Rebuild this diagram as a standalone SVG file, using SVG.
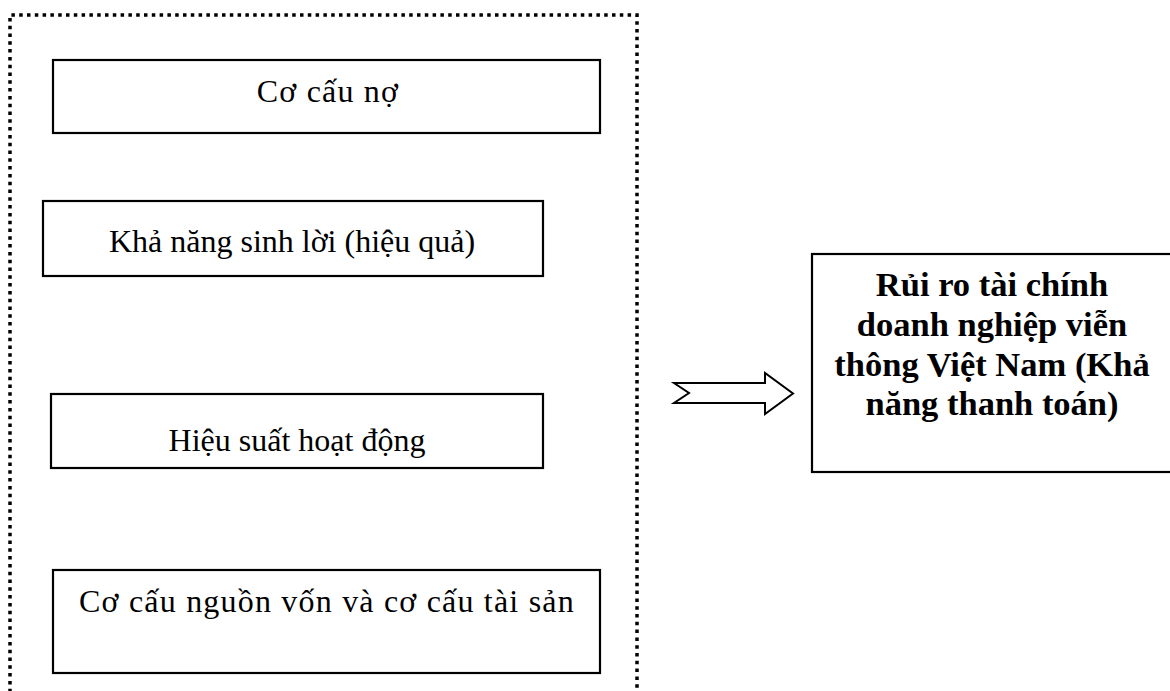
<svg xmlns="http://www.w3.org/2000/svg" width="1170" height="691" viewBox="0 0 1170 691">
  <style>
    .box { fill: #fff; stroke: #000; stroke-width: 2.2; }
    .frame { fill: none; stroke: #000; stroke-width: 3.5; stroke-dasharray: 3.5 4.3; }
    .lbl { font-family: "Liberation Serif", "Times New Roman", serif; font-size: 32px; fill: #000; text-anchor: middle; }
    .wide { letter-spacing: 1.2px; }
    .head { font-family: "Liberation Serif", "Times New Roman", serif; font-size: 34.5px; font-weight: bold; fill: #000; text-anchor: middle; }
    .arrow { fill: #fff; stroke: #000; stroke-width: 2; stroke-linejoin: miter; }
  </style>
  <rect width="1170" height="691" fill="#fff"/>

  <!-- dotted grouping frame around the factor boxes -->
  <g id="factor-frame">
    <path class="frame" d="M10 700 L10 15 L637 15 L637 700"/>
  </g>

  <g id="node-co-cau-no">
    <rect class="box" x="53" y="60" width="547" height="73"/>
    <text class="lbl wide" x="328" y="102">Cơ cấu nợ</text>
  </g>

  <g id="node-kha-nang-sinh-loi">
    <rect class="box" x="43" y="201" width="500" height="75"/>
    <text class="lbl" x="292" y="252">Khả năng sinh lời (hiệu quả)</text>
  </g>

  <g id="node-hieu-suat">
    <rect class="box" x="51" y="394" width="492" height="74"/>
    <text class="lbl" x="297" y="451">Hiệu suất hoạt động</text>
  </g>

  <g id="node-co-cau-nguon-von">
    <rect class="box" x="53" y="570" width="547" height="103"/>
    <text class="lbl wide" x="327" y="612">Cơ cấu nguồn vốn và cơ cấu tài sản</text>
  </g>

  <g id="node-rui-ro">
    <rect class="box" x="812" y="254" width="380" height="218"/>
    <text class="head" x="992" y="296">Rủi ro tài chính</text>
    <text class="head" x="992" y="336">doanh nghiệp viễn</text>
    <text class="head" x="992" y="376">thông Việt Nam (Khả</text>
    <text class="head" x="992" y="415">năng thanh toán)</text>
  </g>

  <g id="connectors">
    <polygon class="arrow" points="674,383 765,383 765,373 793,393.5 765,414 765,403 674,403 689,393"/>
  </g>
</svg>
